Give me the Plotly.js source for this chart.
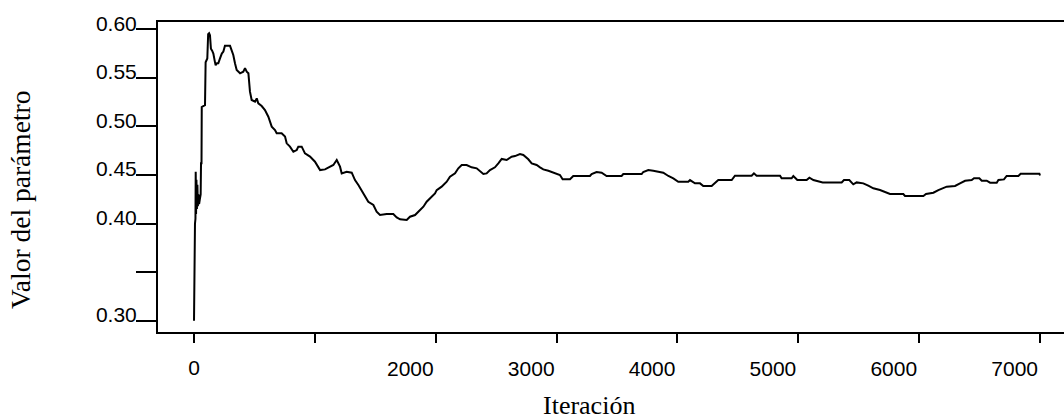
<!DOCTYPE html>
<html>
<head>
<meta charset="utf-8">
<script src="https://cdn.plot.ly/plotly-3.0.1.min.js"></script>
<style>
html,body{margin:0;padding:0;overflow:hidden;background:#fff;}
#chart{width:1100px;height:419px;}
</style>
</head>
<body>
<div id="chart"></div>
<script>
// Iteration numbers and parameter values
var iteracion = [0, 2, 8, 12, 14, 17, 20, 24, 28, 32, 36, 42, 48, 55, 58, 62, 64, 91, 96, 110, 117, 125, 132, 140, 150, 160, 172, 179, 190, 201, 215, 230, 243, 256, 298, 312, 325, 339, 353, 381, 408, 422, 436, 450, 463, 477, 505, 519, 532, 560, 587, 615, 643, 670, 684, 725, 753, 767, 794, 822, 850, 863, 891, 918, 960, 1001, 1043, 1084, 1125, 1153, 1181, 1208, 1222, 1263, 1305, 1332, 1360, 1401, 1442, 1484, 1511, 1539, 1594, 1649, 1677, 1705, 1760, 1787, 1829, 1856, 1898, 1925, 1953, 1994, 2008, 2049, 2091, 2118, 2160, 2187, 2215, 2256, 2297, 2339, 2394, 2421, 2449, 2490, 2518, 2546, 2587, 2628, 2656, 2697, 2725, 2766, 2794, 2835, 2863, 2890, 2932, 2973, 3028, 3050, 3111, 3138, 3193, 3276, 3290, 3331, 3373, 3414, 3469, 3538, 3552, 3704, 3717, 3759, 3800, 3883, 3925, 3966, 4007, 4090, 4104, 4145, 4187, 4214, 4283, 4311, 4338, 4449, 4476, 4614, 4633, 4655, 4849, 4862, 4945, 4959, 4992, 5069, 5092, 5125, 5202, 5359, 5378, 5422, 5455, 5483, 5538, 5579, 5621, 5676, 5731, 5759, 5869, 5883, 6035, 6057, 6118, 6159, 6228, 6297, 6338, 6380, 6435, 6454, 6498, 6518, 6559, 6587, 6642, 6656, 6702, 6724, 6821, 6840, 6995, 7000];
var valor = [0.300, 0.395, 0.400, 0.405, 0.4534, 0.410, 0.445, 0.415, 0.440, 0.418, 0.430, 0.420, 0.425, 0.430, 0.462, 0.462, 0.520, 0.522, 0.566, 0.570, 0.595, 0.596, 0.594, 0.580, 0.578, 0.575, 0.567, 0.563, 0.565, 0.565, 0.570, 0.575, 0.577, 0.583, 0.583, 0.579, 0.5735, 0.565, 0.558, 0.5547, 0.5564, 0.560, 0.5564, 0.5547, 0.5358, 0.5272, 0.5255, 0.5289, 0.5238, 0.521, 0.5169, 0.510, 0.4998, 0.4963, 0.4929, 0.4929, 0.4895, 0.4826, 0.4792, 0.474, 0.4757, 0.4792, 0.4792, 0.4723, 0.4689, 0.4637, 0.4551, 0.4558, 0.4586, 0.4603, 0.4654, 0.4586, 0.4517, 0.4534, 0.4524, 0.4448, 0.4397, 0.4311, 0.4225, 0.4191, 0.4122, 0.4088, 0.4098, 0.4098, 0.4064, 0.4044, 0.4037, 0.4071, 0.4088, 0.4122, 0.4174, 0.4225, 0.426, 0.4311, 0.4345, 0.438, 0.4431, 0.4482, 0.4517, 0.4569, 0.4603, 0.4603, 0.4579, 0.4569, 0.451, 0.4517, 0.4551, 0.4579, 0.462, 0.4665, 0.4654, 0.4688, 0.4695, 0.4716, 0.4706, 0.4662, 0.462, 0.4603, 0.4579, 0.4558, 0.4544, 0.4524, 0.450, 0.4456, 0.4456, 0.449, 0.449, 0.449, 0.451, 0.4531, 0.4524, 0.449, 0.449, 0.449, 0.451, 0.451, 0.4531, 0.4551, 0.4544, 0.4524, 0.449, 0.4466, 0.4431, 0.4431, 0.4448, 0.4414, 0.4414, 0.4387, 0.4387, 0.4421, 0.4448, 0.4448, 0.4493, 0.4493, 0.4517, 0.4493, 0.4493, 0.4466, 0.4466, 0.449, 0.4448, 0.4448, 0.4473, 0.4448, 0.4424, 0.4424, 0.4448, 0.4448, 0.4404, 0.4424, 0.4414, 0.439, 0.4363, 0.4345, 0.4318, 0.4304, 0.4304, 0.4284, 0.4284, 0.4304, 0.4318, 0.4345, 0.438, 0.4387, 0.4414, 0.4441, 0.4448, 0.4466, 0.4466, 0.4441, 0.4441, 0.4421, 0.4421, 0.4448, 0.4455, 0.449, 0.449, 0.4513, 0.4513, 0.4495];

var xTickVals = [0, 1000, 2000, 3000, 4000, 5000, 6000, 7000];
var xTickText = ["0", "", "2000", "3000", "4000", "5000", "6000", "7000"];
var yTickVals = [0.30, 0.35, 0.40, 0.45, 0.50, 0.55, 0.60];
var yTickText = ["0.30", "", "0.40", "0.45", "0.50", "0.55", "0.60"];
var xTitle = "Iteración";
var yTitle = "Valor del parámetro";

var trace = {
  x: iteracion,
  y: valor,
  type: 'scatter',
  mode: 'lines',
  line: {color: '#000', width: 2},
  hoverinfo: 'skip'
};

var tickFont = {family: '"Liberation Sans", Arial, sans-serif', size: 21, color: '#000'};
var titleFont = {family: '"Liberation Serif", "Times New Roman", serif', size: 26, color: '#000'};
var yTitleFont = {family: '"Liberation Serif", "Times New Roman", serif', size: 27.5, color: '#000'};

// The "0" label is centred on its tick; the four-digit labels end at their tick.
var mainXText = xTickText.map(function (t, i) { return i === 0 ? "" : t; });

var layout = {
  width: 1100,
  height: 419,
  margin: {l: 158, r: 20, t: 22, b: 87},
  paper_bgcolor: '#fff',
  plot_bgcolor: '#fff',
  showlegend: false,
  xaxis: {
    range: [-298, 7331],
    tickmode: 'array',
    tickvals: xTickVals,
    ticktext: mainXText,
    ticks: 'outside',
    ticklen: 9,
    tickwidth: 2,
    tickcolor: '#000',
    tickfont: tickFont,
    ticklabelposition: 'outside left',
    ticklabelstandoff: 17,
    showline: true,
    linecolor: '#000',
    linewidth: 2,
    mirror: true,
    showgrid: false,
    zeroline: false
  },
  xaxis2: {
    overlaying: 'x',
    matches: 'x',
    side: 'bottom',
    anchor: 'y',
    tickmode: 'array',
    tickvals: [xTickVals[0]],
    ticktext: [xTickText[0]],
    ticks: 'outside',
    ticklen: 9,
    tickwidth: 2,
    tickcolor: '#000',
    tickfont: tickFont,
    ticklabelstandoff: 8,
    showline: false,
    showgrid: false,
    zeroline: false
  },
  yaxis: {
    range: [0.2884, 0.6075],
    tickmode: 'array',
    tickvals: yTickVals,
    ticktext: yTickText,
    ticks: 'outside',
    ticklen: 20,
    tickwidth: 2,
    tickcolor: '#000',
    tickfont: tickFont,
    ticklabelstandoff: -5,
    ticklabelshift: -6,
    showline: true,
    linecolor: '#000',
    linewidth: 2,
    mirror: true,
    showgrid: false,
    zeroline: false
  },
  annotations: [
    {text: xTitle, xref: 'paper', yref: 'paper', x: 0.4675, y: -0.2387,
     xanchor: 'center', yanchor: 'middle', showarrow: false, font: titleFont},
    {text: yTitle, xref: 'paper', yref: 'paper', x: -0.1497, y: 0.4258,
     xanchor: 'center', yanchor: 'middle', textangle: -90, showarrow: false, font: yTitleFont}
  ]
};

var trace2 = {x: [xTickVals[0]], y: [null], xaxis: 'x2', yaxis: 'y', type: 'scatter', mode: 'lines', hoverinfo: 'skip', showlegend: false};

Plotly.newPlot('chart', [trace, trace2], layout, {displayModeBar: false, staticPlot: true});
</script>
</body>
</html>
